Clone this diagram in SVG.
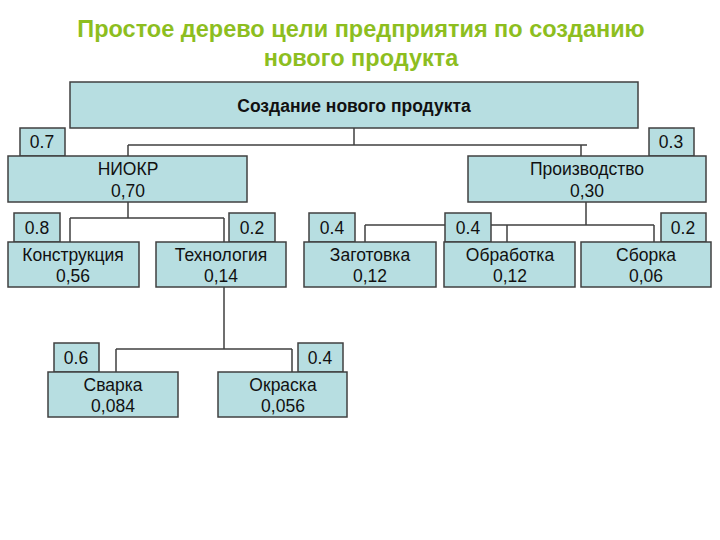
<svg xmlns="http://www.w3.org/2000/svg" width="720" height="540" viewBox="0 0 720 540">
<style>
.box{fill:#b7dee1;stroke:#404040;stroke-width:1.5}
.w{fill:#b7dee1;stroke:#404040;stroke-width:1.5}
.t{font-family:"Liberation Sans",Arial,sans-serif;font-size:17.5px;fill:#111;text-anchor:middle}
.title{font-family:"Liberation Sans",Arial,sans-serif;font-size:23.5px;font-weight:bold;fill:#8dbe1f;text-anchor:middle}
.c{fill:none;stroke:#404040;stroke-width:1.5}
</style>
<rect width="720" height="540" fill="#fff"/>
<text class="title" x="361" y="37">Простое дерево цели предприятия по созданию</text>
<text class="title" x="361" y="66">нового продукта</text>
<g id="connectors">
<path class="c" d="M354 128V145M128 145H587M128 145V156M581 145V156"/>
<path class="c" d="M128 202V218M70 218H224M70 218V242M224 218V242"/>
<path class="c" d="M586 202V225M365 225H654M365 225V242M507 225V242M654 225V242"/>
<path class="c" d="M224 287V349M116 349H292M116 349V372M292 349V372"/>
</g>
<g id="root">
<rect class="box" x="70" y="82" width="568" height="46"/>
<text class="t" x="354" y="112" font-weight="bold" font-size="18">Создание нового продукта</text>
</g>
<g id="niokr">
<rect class="w" x="20" y="128" width="45" height="28"/>
<text class="t" x="42" y="148">0.7</text>
<rect class="box" x="8" y="156" width="239" height="46"/>
<text class="t" x="128" y="175">НИОКР</text>
<text class="t" x="128" y="197">0,70</text>
</g>
<g id="proizv">
<rect class="w" x="649" y="128" width="45" height="28"/>
<text class="t" x="671" y="148">0.3</text>
<rect class="box" x="468" y="156" width="238" height="46"/>
<text class="t" x="587" y="175">Производство</text>
<text class="t" x="587" y="197">0,30</text>
</g>
<g id="konstr">
<rect class="w" x="14" y="213" width="46" height="29"/>
<text class="t" x="37" y="234">0.8</text>
<rect class="box" x="8" y="242" width="131" height="45"/>
<text class="t" x="73" y="261">Конструкция</text>
<text class="t" x="73" y="282">0,56</text>
</g>
<g id="tehn">
<rect class="w" x="229" y="213" width="46" height="29"/>
<text class="t" x="252" y="234">0.2</text>
<rect class="box" x="156" y="242" width="130" height="45"/>
<text class="t" x="221" y="261">Технология</text>
<text class="t" x="221" y="282">0,14</text>
</g>
<g id="zagot">
<rect class="w" x="309" y="213" width="46" height="29"/>
<text class="t" x="332" y="234">0.4</text>
<rect class="box" x="304" y="242" width="132" height="45"/>
<text class="t" x="370" y="261">Заготовка</text>
<text class="t" x="370" y="282">0,12</text>
</g>
<g id="obrab">
<rect class="w" x="445" y="213" width="46" height="29"/>
<text class="t" x="468" y="234">0.4</text>
<rect class="box" x="444" y="242" width="131" height="45"/>
<text class="t" x="510" y="261">Обработка</text>
<text class="t" x="510" y="282">0,12</text>
</g>
<g id="sborka">
<rect class="w" x="661" y="213" width="45" height="29"/>
<text class="t" x="683" y="234">0.2</text>
<rect class="box" x="581" y="242" width="130" height="45"/>
<text class="t" x="646" y="261">Сборка</text>
<text class="t" x="646" y="282">0,06</text>
</g>
<g id="svarka">
<rect class="w" x="54" y="343" width="45" height="29"/>
<text class="t" x="76" y="364">0.6</text>
<rect class="box" x="48" y="372" width="130" height="45"/>
<text class="t" x="113" y="391">Сварка</text>
<text class="t" x="113" y="412">0,084</text>
</g>
<g id="okraska">
<rect class="w" x="298" y="343" width="45" height="29"/>
<text class="t" x="320" y="364">0.4</text>
<rect class="box" x="218" y="372" width="129" height="45"/>
<text class="t" x="283" y="391">Окраска</text>
<text class="t" x="283" y="412">0,056</text>
</g>
</svg>
